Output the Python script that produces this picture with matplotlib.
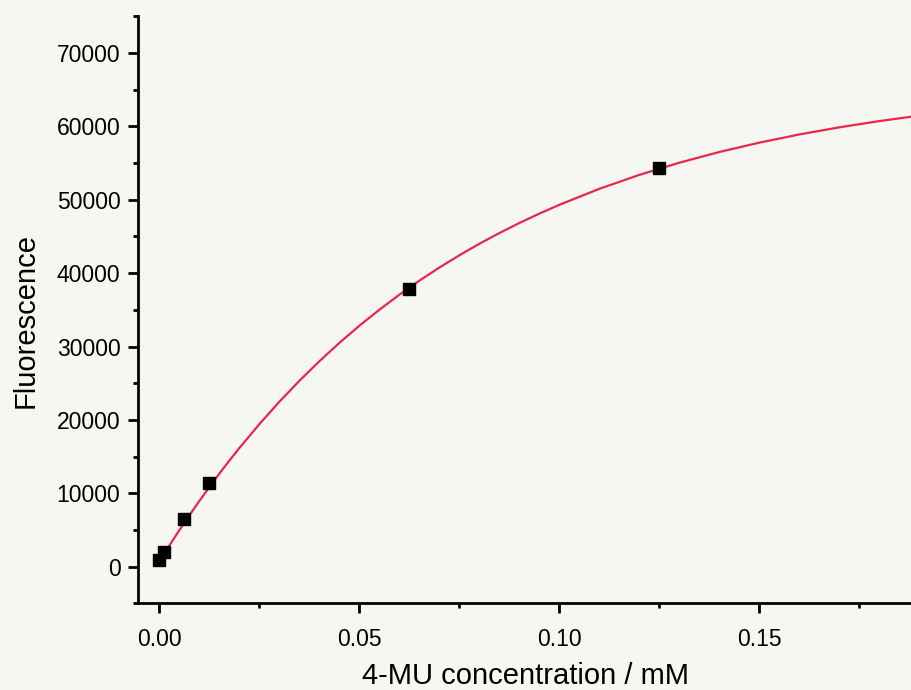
import matplotlib
matplotlib.use("Agg")
import matplotlib.pyplot as plt
from matplotlib.ticker import MultipleLocator, FormatStrFormatter

# Measured data (4-MU standard curve)
conc_mM = [0.0, 0.00125, 0.00625, 0.0125, 0.0625, 0.125]
fluorescence = [910, 2050, 6450, 11350, 37830, 54290]

# Fitted curve
fit_x = [0.0, 0.0025, 0.005, 0.0075, 0.01, 0.0125, 0.015, 0.0175, 0.02, 0.025,
         0.03, 0.035, 0.04, 0.045, 0.05, 0.055, 0.06, 0.065, 0.07, 0.075, 0.08,
         0.085, 0.09, 0.095, 0.10, 0.11, 0.12, 0.13, 0.14, 0.15, 0.16, 0.17,
         0.18, 0.19, 0.20]
fit_y = [700, 2860, 4960, 6980, 8940, 10830, 12670, 14440, 16150, 19410,
         22460, 25310, 27980, 30480, 32820, 35000, 37050, 38960, 40750, 42420, 43990,
         45450, 46820, 48100, 49300, 51480, 53380, 55040, 56500, 57770, 58890, 59860,
         60710, 61460, 62110]

x_ticks = [0.00, 0.05, 0.10, 0.15]
y_ticks = [0, 10000, 20000, 30000, 40000, 50000, 60000, 70000]

plt.rcParams['font.family'] = ['Liberation Sans', 'DejaVu Sans']

bg = '#f6f7f2'
fig = plt.figure(figsize=(9.11, 6.90), dpi=100, facecolor=bg)
ax = fig.add_axes([0.152, 0.1255, 0.901, 0.851])
ax.set_facecolor(bg)

ax.plot(fit_x, fit_y, color='#e8284a', lw=1.6, zorder=2)
ax.plot(conc_mM, fluorescence, linestyle='none', marker='s', ms=8.5,
        color='black', zorder=3)

ax.set_xlim(-0.0052, 0.2)
ax.set_ylim(-5000, 75000)
ax.set_xticks(x_ticks)
ax.set_yticks(y_ticks)
ax.xaxis.set_major_formatter(FormatStrFormatter('%.2f'))
ax.xaxis.set_minor_locator(MultipleLocator(0.025))
ax.yaxis.set_minor_locator(MultipleLocator(5000))

for s in ['top', 'right']:
    ax.spines[s].set_visible(False)
for s in ['left', 'bottom']:
    ax.spines[s].set_linewidth(2.0)

ax.tick_params(axis='both', which='major', direction='out', length=7, width=2.0,
               labelsize=16.5, colors='black')
ax.tick_params(axis='both', which='minor', direction='out', length=3.5, width=2.0)
ax.tick_params(axis='x', which='major', pad=11)
ax.tick_params(axis='y', which='major', pad=6)

ax.set_xlabel('4-MU concentration / mM', fontsize=21)
ax.set_ylabel('Fluorescence', fontsize=21)
ax.xaxis.set_label_coords((526 - 138.5) / (0.901 * 911), -(676 - 603.4) / (0.851 * 690))
ax.yaxis.set_label_coords(-(138.5 - 26) / (0.901 * 911), (603.4 - 320) / (0.851 * 690))
ax.xaxis.label.set_va('center')
ax.yaxis.label.set_va('center')

fig.savefig('out.png', dpi=100, facecolor=bg)
